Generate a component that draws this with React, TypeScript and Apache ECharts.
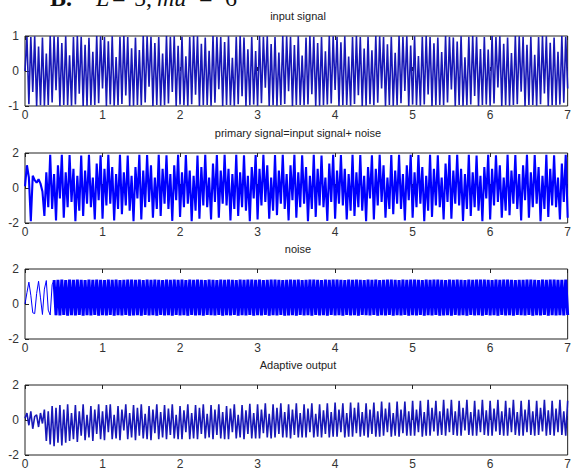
import React, { useEffect, useRef } from "react";
import * as echarts from "echarts";

const X_TICKS = [0, 1, 2, 3, 4, 5, 6, 7];
const TITLES = ["input signal", "primary signal=input signal+ noise", "noise", "Adaptive output"];
const Y_MIN = [-1, -2, -2, -2];
const Y_MAX = [1, 2, 2, 2];
const Y_STEP = [1, 2, 2, 2];
const T_END = 7;
const NOISE_SETTLE_INDEX = 16;

const inputSignal = [
  0, 0.98, -0.95, 0.97, -0.6, 0.99, -1, 0.7, -0.98, 0.96, -0.99, 0.5, -0.97, 1, -0.9, 0.99, -0.55, 0.98, -1, 0.8,
  -0.97, 0.99, -0.98, 0.45, -0.99, 0.97, -0.96, 1, -0.65, 0.98, -1, 0.75, -0.99, 0.95, -0.98, 0.55, -0.97, 1, -0.92, 0.99,
  -0.5, 0.97, -1, 0.85, -0.96, 0.99, -0.99, 0.4, -0.98, 0.98, -0.94, 1, -0.7, 0.97, -1, 0.65, -0.99, 0.96, -0.97, 0.6,
  -0.98, 1, -0.9, 0.99, -0.45, 0.98, -1, 0.8, -0.97, 0.97, -0.99, 0.5, -0.98, 1, -0.93, 0.98, -0.6, 0.99, -1, 0.72,
  -0.96, 0.98, -0.98, 0.42, -0.99, 0.97, -0.95, 1, -0.68, 0.99, -1, 0.78, -0.98, 0.96, -0.97, 0.58, -0.99, 1, -0.91, 0.98,
  -0.52, 0.97, -1, 0.83, -0.97, 0.99, -0.98, 0.38, -0.99, 0.98, -0.95, 1, -0.72, 0.96, -1, 0.62, -0.98, 0.97, -0.96, 0.57,
  -0.99, 1, -0.92, 0.98, -0.48, 0.99, -1, 0.77, -0.98, 0.97, -0.99, 0.53, -0.97, 1, -0.94, 0.99, -0.58, 0.98, -1, 0.74,
  -0.97, 0.99, -0.97, 0.44, -0.98, 0.96, -0.96, 1, -0.66, 0.98, -1, 0.8, -0.99, 0.97, -0.98, 0.56, -0.96, 1, -0.93, 0.99,
  -0.54, 0.98, -1, 0.82, -0.98, 0.99, -0.97, 0.41, -0.99, 0.97, -0.94, 1, -0.69, 0.97, -1, 0.64, -0.99, 0.98, -0.95, 0.59,
  -0.98, 1, -0.91, 0.99, -0.5, 0.97, -1, 0.76, -0.97, 0.98, -0.99, 0.52, -0.98, 1, -0.92, 0.98, -0.57, 0.99, -1, 0.73,
  -0.96, 0.99, -0.98, 0.43, -0.99, 0.98, -0.96, 1, -0.67, 0.97, -1, 0.79, -0.98, 0.96, -0.97, 0.54, -0.98, 1, -0.9, 0.98,
  -0.53, 0.96, -1, 0.84, -0.97, 0.99, -0.99, 0.39, -0.98, 0.98, -0.96, 1, -0.71, 0.98, -1, 0.63, -0.97, 0.97, -0.96, 0.61,
  -0.99, 1, -0.93, 0.97, -0.47, 0.99, -1, 0.78, -0.98, 0.96, -0.99, 0.51, -0.97, 1, -0.95, 0.99, -0.59, 0.98, -1, 0.75,
  -0.97, 0.98, -0.97, 0.46, -0.99, 0.97, -0.95, 1, -0.64, 0.99, -1, 0.81, -0.98, 0.96, -0.98, 0.55, -0.96, 1, -0.91, 0.98,
  -0.5,
];

const primarySignal = [
  0.1, 1.3, 0.6, -1.9, 0.7, 0.45, 0.3, 0.5, 0.25, -0.2, -1.6, 0.9, -1.1, 1.9,
  -1.2, 0.8, -1.85, 1.3, -0.6, 1.9, -1.7, 0.9, -1.1, 1.88, -0.8, 1.1, -1.9, 0.7, -1.3, 1.85, -1.6, 1.0, -0.9, 1.9,
  -1.1, 0.6, -1.8, 1.4, -0.7, 1.87, -1.75, 1.1, -1.0, 1.9, -0.9, 1.2, -1.85, 0.8, -1.2, 1.9, -1.5, 0.9, -1.0, 1.86,
  -1.3, 0.7, -1.9, 1.2, -0.6, 1.9, -1.8, 1.0, -1.1, 1.88, -0.8, 1.3, -1.7, 0.6, -1.2, 1.9, -1.6, 1.1, -0.9, 1.87,
  -1.2, 0.8, -1.88, 1.3, -0.7, 1.9, -1.65, 0.9, -1.1, 1.89, -0.9, 1.0, -1.9, 0.7, -1.3, 1.85, -1.75, 1.2, -1.0, 1.9,
  -1.1, 0.6, -1.8, 1.4, -0.8, 1.88, -1.7, 1.0, -0.9, 1.9, -1.0, 1.1, -1.86, 0.8, -1.2, 1.9, -1.6, 0.9, -1.1, 1.87,
  -1.3, 0.7, -1.9, 1.2, -0.6, 1.89, -1.8, 1.1, -1.0, 1.9, -0.8, 1.3, -1.75, 0.6, -1.3, 1.88, -1.55, 1.0, -0.9, 1.9,
  -1.2, 0.8, -1.85, 1.3, -0.7, 1.9, -1.7, 0.9, -1.1, 1.87, -0.9, 1.2, -1.9, 0.7, -1.2, 1.9, -1.65, 1.1, -1.0, 1.86,
  -1.1, 0.6, -1.88, 1.4, -0.8, 1.9, -1.75, 1.0, -0.9, 1.89, -1.0, 1.1, -1.8, 0.8, -1.3, 1.9, -1.6, 0.9, -1.1, 1.88,
  -1.3, 0.7, -1.9, 1.2, -0.6, 1.87, -1.8, 1.1, -1.0, 1.9, -0.8, 1.3, -1.7, 0.6, -1.2, 1.89, -1.5, 1.0, -0.9, 1.9,
  -1.2, 0.8, -1.86, 1.3, -0.7, 1.9, -1.7, 0.9, -1.1, 1.88, -0.9, 1.2, -1.9, 0.7, -1.3, 1.9, -1.65, 1.1, -1.0, 1.87,
  -1.1, 0.6, -1.8, 1.4, -0.8, 1.89, -1.75, 1.0, -0.9, 1.9, -1.0, 1.1, -1.88, 0.8, -1.2, 1.9, -1.6, 0.9, -1.1, 1.86,
  -1.3, 0.7, -1.9, 1.2, -0.6, 1.9, -1.8, 1.1, -1.0, 1.87, -0.8, 1.3, -1.7, 0.6, -1.3, 1.9, -1.55, 1.0, -0.9, 1.89,
  -1.2, 0.8, -1.85, 1.3, -0.7, 1.9, -1.7, 0.9, -1.1, 1.88, -0.9, 1.2, -1.9, 0.7, -1.2, 1.9, -1.65, 1.1, -1.0, 1.87,
  -1.1, 0.6, -1.8, 1.4, -0.8, 1.9, -1.7,
];

const noiseSignal = [
  0, 0.65, 1.25, 0.5, -0.5, -0.55, 0.6, 1.3, 0.35, -0.6, 0.85, 1.34, -0.35, -0.63, 1.1, 1.36,
  -0.64, 1.38, -0.65, 1.39, -0.63, 1.37, -0.66, 1.4, -0.64, 1.38, -0.65, 1.39, -0.63, 1.38, -0.66, 1.37, -0.64, 1.4, -0.65, 1.38,
  -0.63, 1.39, -0.66, 1.38, -0.64, 1.37, -0.65, 1.4, -0.63, 1.38, -0.66, 1.39, -0.64, 1.37, -0.65, 1.38, -0.63, 1.4, -0.66, 1.39,
  -0.65, 1.38, -0.64, 1.4, -0.66, 1.37, -0.63, 1.39, -0.65, 1.38, -0.64, 1.4, -0.66, 1.38, -0.63, 1.37, -0.65, 1.39, -0.64, 1.38,
  -0.66, 1.39, -0.63, 1.38, -0.65, 1.4, -0.64, 1.37, -0.66, 1.39, -0.63, 1.38, -0.65, 1.4, -0.64, 1.38, -0.66, 1.37, -0.63, 1.39,
  -0.64, 1.38, -0.65, 1.37, -0.63, 1.4, -0.66, 1.38, -0.64, 1.39, -0.65, 1.38, -0.63, 1.37, -0.66, 1.4, -0.64, 1.38, -0.65, 1.39,
  -0.63, 1.4, -0.66, 1.38, -0.64, 1.39, -0.65, 1.37, -0.63, 1.38, -0.66, 1.4, -0.64, 1.39, -0.65, 1.38, -0.63, 1.37, -0.66, 1.38,
  -0.65, 1.39, -0.64, 1.38, -0.66, 1.4, -0.63, 1.37, -0.65, 1.38, -0.64, 1.39, -0.66, 1.4, -0.63, 1.38, -0.65, 1.37, -0.64, 1.39,
  -0.66, 1.38, -0.63, 1.4, -0.65, 1.39, -0.64, 1.38, -0.66, 1.37, -0.63, 1.39, -0.65, 1.38, -0.64, 1.4, -0.66, 1.38, -0.63, 1.37,
  -0.64, 1.39, -0.65, 1.38, -0.63, 1.4, -0.66, 1.37, -0.64, 1.38, -0.65, 1.39, -0.63, 1.4, -0.66, 1.38, -0.64, 1.37, -0.65, 1.39,
  -0.63, 1.38, -0.66, 1.39, -0.64, 1.4, -0.65, 1.38, -0.63, 1.37, -0.66, 1.39, -0.64, 1.38, -0.65, 1.4, -0.63, 1.39, -0.66, 1.38,
  -0.65, 1.37, -0.64, 1.39, -0.66, 1.38, -0.63, 1.4, -0.65, 1.38, -0.64, 1.37, -0.66, 1.39, -0.63, 1.38, -0.65, 1.4, -0.64, 1.39,
  -0.66, 1.4, -0.63, 1.38, -0.65, 1.37, -0.64, 1.39, -0.66, 1.38, -0.63, 1.4, -0.65, 1.39, -0.64, 1.38, -0.66, 1.37, -0.63, 1.38,
  -0.64, 1.38, -0.65, 1.39, -0.63, 1.4, -0.66, 1.38, -0.64, 1.37, -0.65, 1.39, -0.63, 1.38, -0.66, 1.4, -0.64, 1.39, -0.65, 1.38,
  -0.64, 1.38, -0.65, 1.39, -0.63,
];

const adaptiveOutput = [
  0.1, 0.4, -0.3, 0.5, -0.5, 0.2, 0.3, -0.4, 0.4, -0.2, 0.6, -1.2, 0.5, -1.4, 0.8, -1.5, 0.7, -1.3, 0.85, -1.45,
  0.6, -1.3, 0.9, -1.2, 0.4, -1.1, 0.85, -1.25, 0.5, -0.9, 0.9, -1.15, 0.3, -1.0, 0.8, -1.2, 0.6, -0.8, 0.9, -1.1,
  0.5, -1.15, 0.85, -0.7, 0.9, -1.1, 0.3, -1.05, 0.8, -1.15, 0.6, -0.6, 0.9, -1.1, 0.4, -1.0, 0.85, -1.15, 0.7, -0.9,
  0.9, -1.05, 0.35, -1.1, 0.8, -1.15, 0.6, -0.75, 0.9, -1.1, 0.45, -1.0, 0.85, -1.1, 0.65, -0.85, 0.9, -1.05, 0.3, -1.1,
  0.8, -1.1, 0.55, -0.7, 0.9, -1.1, 0.4, -1.05, 0.85, -1.1, 0.7, -0.8, 0.9, -1.05, 0.35, -1.0, 0.85, -1.1, 0.6, -0.85,
  0.9, -1.05, 0.45, -1.1, 0.8, -1.1, 0.65, -0.7, 0.9, -1.05, 0.3, -1.0, 0.85, -1.1, 0.55, -0.8, 0.92, -1.05, 0.4, -1.05,
  0.9, -1.05, 0.6, -0.75, 0.95, -1.0, 0.35, -1.05, 0.9, -1.0, 0.7, -0.8, 0.95, -1.0, 0.45, -1.0, 0.9, -1.05, 0.6, -0.85,
  0.95, -1.0, 0.4, -1.0, 0.9, -1.0, 0.65, -0.7, 0.95, -1.0, 0.35, -0.95, 0.9, -1.0, 0.55, -0.8, 0.95, -1.0, 0.45, -0.95,
  1.0, -0.95, 0.6, -0.7, 0.95, -1.0, 0.4, -0.95, 1.0, -0.95, 0.7, -0.75, 1.0, -0.95, 0.45, -0.9, 0.95, -1.0, 0.6, -0.8,
  1.0, -0.95, 0.5, -0.95, 1.05, -0.9, 0.65, -0.7, 1.0, -0.95, 0.4, -0.9, 1.05, -0.95, 0.6, -0.75, 1.05, -0.9, 0.5, -0.9,
  1.1, -0.9, 0.6, -0.7, 1.1, -0.95, 0.45, -0.9, 1.15, -0.9, 0.7, -0.65, 1.1, -0.9, 0.5, -0.85, 1.15, -0.9, 0.65, -0.7,
  1.15, -0.85, 0.5, -0.9, 1.1, -0.9, 0.7, -0.6, 1.15, -0.85, 0.45, -0.9, 1.1, -0.9, 0.6, -0.7, 1.15, -0.85, 0.55, -0.9,
  1.1, -0.9, 0.65, -0.65, 1.15, -0.85, 0.5, -0.9, 1.1, -0.9, 0.7, -0.7, 1.15, -0.85, 0.45, -0.9, 1.1, -0.9, 0.6, -0.7,
  1.15, -0.85, 0.5, -0.9, 1.1, -0.85, 0.7, -0.65, 1.15, -0.9, 0.55, -0.85, 1.1, -0.9, 0.65, -0.7, 1.15, -0.85, 0.5, -0.9,
  1.1,
];

function toPairs(values: number[]) {
  const n = values.length;
  return values.map((v, i) => [(i * T_END) / (n - 1), v]);
}

const GRID_TOPS = [36, 153, 269, 385];
const TITLE_GAP = 26;
const GRID_H = 70;
const LEFT = 25;
const RIGHT = 2;
const FONT = "'Liberation Sans', Arial, sans-serif";
const AXIS_COLOR = "#222";
const BLUE = "#0000ff";
const NAVY = "#1818b8";

export default function App() {
  const ref = useRef<HTMLDivElement>(null);

  useEffect(() => {
    if (!ref.current) return;
    const chart = echarts.init(ref.current, undefined, { renderer: "svg" });

    const grids: any[] = [];
    const xAxes: any[] = [];
    const yAxes: any[] = [];
    const titles: any[] = [];
    for (let g = 0; g < 4; g++) {
      grids.push({
        left: LEFT,
        right: RIGHT,
        top: GRID_TOPS[g],
        height: GRID_H,
        show: true,
        borderColor: AXIS_COLOR,
        borderWidth: 1,
        containLabel: false,
      });
      xAxes.push({
        type: "value",
        gridIndex: g,
        position: "bottom",
        min: X_TICKS[0],
        max: X_TICKS[X_TICKS.length - 1],
        interval: 1,
        axisLine: { show: false },
        axisTick: { show: true, inside: true, length: 4, lineStyle: { color: AXIS_COLOR } },
        axisLabel: {
          show: true,
          margin: 3,
          fontSize: 12,
          color: "#333",
          fontFamily: FONT,
          showMinLabel: true,
          showMaxLabel: true,
        },
        splitLine: { show: false },
      });
      xAxes.push({
        type: "value",
        gridIndex: g,
        position: "top",
        min: X_TICKS[0],
        max: X_TICKS[X_TICKS.length - 1],
        interval: 1,
        axisLine: { show: false },
        axisTick: { show: true, inside: true, length: 4, lineStyle: { color: AXIS_COLOR } },
        axisLabel: { show: false },
        splitLine: { show: false },
      });
      yAxes.push({
        type: "value",
        gridIndex: g,
        min: Y_MIN[g],
        max: Y_MAX[g],
        interval: Y_STEP[g],
        axisLine: { show: false },
        axisTick: { show: true, inside: true, length: 4, lineStyle: { color: AXIS_COLOR } },
        axisLabel: {
          show: true,
          margin: 6,
          fontSize: 12,
          color: "#333",
          fontFamily: FONT,
        },
        splitLine: { show: false },
      });
      titles.push({
        text: TITLES[g],
        left: 298,
        textAlign: "center",
        top: GRID_TOPS[g] - TITLE_GAP,
        padding: 0,
        textStyle: { fontSize: 11, fontWeight: "normal", color: "#222", fontFamily: FONT },
      });
    }

    const baseLine = { type: "line", showSymbol: false, symbol: "none", silent: true, clip: true };
    const noisePairs = toPairs(noiseSignal);

    const series: any[] = [
      { ...baseLine, xAxisIndex: 0, yAxisIndex: 0, data: toPairs(inputSignal), lineStyle: { color: NAVY, width: 1.6, join: "bevel" } },
      { ...baseLine, xAxisIndex: 2, yAxisIndex: 1, data: toPairs(primarySignal), lineStyle: { color: BLUE, width: 2.1, join: "bevel" } },
      { ...baseLine, xAxisIndex: 4, yAxisIndex: 2, data: noisePairs.slice(0, NOISE_SETTLE_INDEX + 1), lineStyle: { color: BLUE, width: 1, join: "bevel" } },
      { ...baseLine, xAxisIndex: 4, yAxisIndex: 2, data: noisePairs.slice(NOISE_SETTLE_INDEX - 1), lineStyle: { color: BLUE, width: 3, join: "bevel" } },
      { ...baseLine, xAxisIndex: 6, yAxisIndex: 3, data: toPairs(adaptiveOutput), lineStyle: { color: NAVY, width: 1.6, join: "bevel" } },
    ];

    const serif = "'Liberation Serif', 'Times New Roman', serif";
    const topTexts = [
      { x: 50, text: "B.", style: "normal", weight: "bold" },
      { x: 96, text: "L", style: "italic", weight: "normal" },
      { x: 112, text: "=", style: "normal", weight: "normal" },
      { x: 134, text: "5,", style: "normal", weight: "normal" },
      { x: 157, text: "mu", style: "italic", weight: "normal" },
      { x: 199, text: "=", style: "normal", weight: "normal" },
      { x: 225, text: "6", style: "normal", weight: "normal" },
    ];

    chart.setOption({
      animation: false,
      backgroundColor: "#ffffff",
      title: titles,
      grid: grids,
      xAxis: xAxes,
      yAxis: yAxes,
      series,
      graphic: topTexts.map((t) => ({
        type: "text",
        x: t.x,
        y: 10,
        silent: true,
        style: {
          text: t.text,
          fill: "#111",
          font: `${t.style} ${t.weight} 24px ${serif}`,
          verticalAlign: "bottom",
          align: "left",
        },
      })),
    });

    return () => chart.dispose();
  }, []);

  return (
    <div
      ref={ref}
      style={{ position: "absolute", left: 0, top: 0, width: 574, height: 472, background: "#fff" }}
    />
  );
}
